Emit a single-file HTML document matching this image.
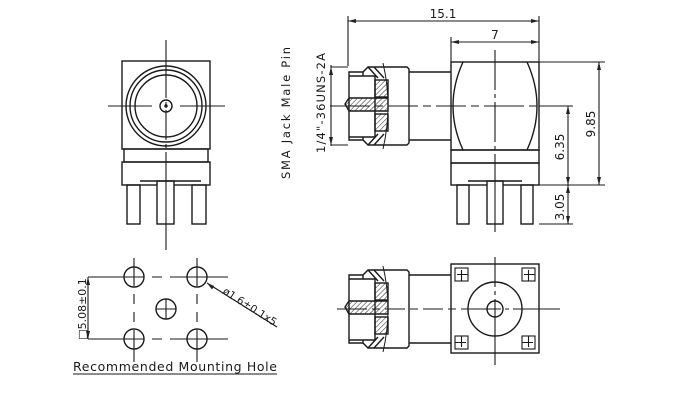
<!DOCTYPE html>
<html><head><meta charset="utf-8"><style>
html,body{margin:0;padding:0;background:#fff;}
svg{display:block;}
text{font-family:"DejaVu Sans","Liberation Sans",sans-serif;fill:#1a1a1a;}
</style></head><body>
<svg width="700" height="416" viewBox="0 0 700 416" xmlns="http://www.w3.org/2000/svg">
<defs>
<pattern id="h" width="3.5" height="3.5" patternUnits="userSpaceOnUse" patternTransform="rotate(45)">
<line x1="0" y1="0" x2="0" y2="3.5" stroke="#222" stroke-width="1"/>
</pattern>
<g id="conn" fill="none" stroke="#1a1a1a" stroke-width="1.4">
<path d="M349,72 L363,72 L368,67 L407,67 L409,69 L409,143 L407,145 L368,145 L363,140 L349,140 Z" fill="#fff"/>
<path d="M349,76 L375,76 L375,137 L349,137"/>
<line x1="363" y1="72" x2="363" y2="76"/><line x1="363" y1="137" x2="363" y2="140"/>
<line x1="368" y1="67" x2="378" y2="78"/><line x1="374" y1="67" x2="384" y2="78"/>
<line x1="368" y1="145" x2="378" y2="134"/><line x1="374" y1="145" x2="384" y2="134"/>
<rect x="375" y="80" width="13" height="17" fill="url(#h)"/>
<rect x="375" y="114" width="13" height="17" fill="url(#h)"/>
<path d="M345,104 L349,98 L388,98 L388,111 L349,111 Z" fill="url(#h)"/>
<path d="M383,63 Q393,106 383,149" stroke-width="1"/>
<line x1="409" y1="72" x2="451" y2="72"/><line x1="409" y1="140" x2="451" y2="140"/>
</g>
</defs>
<g fill="none" stroke="#1a1a1a" stroke-width="1.4">
<!-- front view -->
<rect x="122" y="61" width="88" height="88"/>
<circle cx="166" cy="106" r="40"/><circle cx="166" cy="106" r="36"/><circle cx="166" cy="106" r="31"/>
<circle cx="166" cy="106" r="6"/>
<rect x="124" y="149" width="84" height="13"/>
<rect x="122" y="162" width="88" height="23"/>
<rect x="127" y="185" width="13" height="39"/>
<rect x="157" y="181" width="17" height="43" fill="#fff"/>
<rect x="192" y="185" width="14" height="39"/>
<line x1="140" y1="181" x2="201" y2="181"/>
<g stroke-width="1.1">
<line x1="166" y1="40" x2="166" y2="250" stroke-dasharray="58,4,4,4,30,4,4,4,200"/>
<line x1="108" y1="106" x2="152" y2="106"/><line x1="180" y1="106" x2="225" y2="106"/>
</g>
<circle cx="166" cy="106" r="1" fill="#222"/>

<!-- side view top -->
<use href="#conn"/>
<rect x="451" y="62" width="88" height="88"/>
<path d="M463,62 Q443,106 463,150 M527,62 Q547,106 527,150"/>
<rect x="451" y="150" width="88" height="13"/>
<rect x="451" y="163" width="88" height="22"/>
<rect x="457" y="185" width="12" height="39"/>
<rect x="487" y="181" width="16" height="43" fill="#fff"/>
<rect x="521" y="185" width="12" height="39"/>
<line x1="468" y1="181" x2="522" y2="181"/>
<g stroke-width="1.1">
<line x1="495" y1="50" x2="495" y2="232" stroke-dasharray="40,4,4,4,40,4,4,4,200"/>
<line x1="330" y1="106" x2="573" y2="106" stroke-dasharray="40,5,8,5,30,5,8,5,30,5,8,5,40,5,8,5,300"/>
<!-- dims -->
<line x1="348" y1="16" x2="348" y2="66"/><line x1="539" y1="16" x2="539" y2="62"/>
<line x1="348" y1="21" x2="539" y2="21"/>
<line x1="451" y1="37" x2="451" y2="62"/>
<line x1="451" y1="42" x2="539" y2="42"/>
<line x1="539" y1="62" x2="605" y2="62"/><line x1="539" y1="185" x2="605" y2="185"/>
<line x1="599" y1="62" x2="599" y2="185"/>
<line x1="539" y1="106" x2="573" y2="106"/><line x1="539" y1="224" x2="573" y2="224"/>
<line x1="568" y1="106" x2="568" y2="224"/>
<line x1="331" y1="65" x2="331" y2="146"/>
<line x1="331" y1="67" x2="348" y2="67"/><line x1="331" y1="145" x2="348" y2="145"/>
</g>
<g fill="#222" stroke="none">
<path d="M348,21 l8,-2 v4z M539,21 l-8,-2 v4z M451,42 l8,-2 v4z M539,42 l-8,-2 v4z"/>
<path d="M599,62 l-2,8 h4z M599,185 l-2,-8 h4z M568,106 l-2,8 h4z M568,185 l-2,-8 h4z M568,185 l-2,8 h4z M568,224 l-2,-8 h4z"/>
<path d="M331,67 l-2,8 h4z M331,145 l-2,-8 h4z"/>
</g>

<!-- bottom view -->
<use href="#conn" transform="translate(0,203)"/>
<rect x="451" y="264" width="88" height="89"/>
<circle cx="495" cy="309" r="27"/><circle cx="495" cy="309" r="8"/>
<g stroke-width="1.1">
<rect x="455" y="268" width="13" height="13"/><path d="M461.5,270 V281 M457,274.5 H468"/>
<rect x="522" y="268" width="13" height="13"/><path d="M528.5,270 V281 M524,274.5 H535"/>
<rect x="455" y="336" width="13" height="13"/><path d="M461.5,336 V347 M455,342.5 H466"/>
<rect x="522" y="336" width="13" height="13"/><path d="M528.5,336 V347 M522,342.5 H533"/>
<line x1="495" y1="257" x2="495" y2="365" stroke-dasharray="30,4,4,4,200"/>
<line x1="337" y1="309" x2="560" y2="309" stroke-dasharray="30,5,8,5,20,5,8,5,20,5,8,5,40,4,4,4,60"/>
</g>

<!-- mounting holes -->
<circle cx="134" cy="277" r="10"/><circle cx="197" cy="277" r="10"/>
<circle cx="166" cy="309" r="10"/>
<circle cx="134" cy="339" r="10"/><circle cx="197" cy="339" r="10"/>
<g stroke-width="1.1">
<line x1="118" y1="277" x2="228" y2="277" stroke-dasharray="26,8,10,8,60"/>
<line x1="118" y1="339" x2="228" y2="339" stroke-dasharray="26,8,10,8,60"/>
<line x1="134" y1="258" x2="134" y2="362" stroke-dasharray="28,8,10,8,10,8,40"/>
<line x1="197" y1="258" x2="197" y2="362" stroke-dasharray="28,8,10,8,10,8,40"/>
<line x1="156" y1="309" x2="176" y2="309"/><line x1="166" y1="299" x2="166" y2="319"/>
<line x1="88" y1="277" x2="124" y2="277"/><line x1="88" y1="339" x2="124" y2="339"/>
<line x1="88" y1="277" x2="88" y2="339"/>
<line x1="207" y1="283" x2="277" y2="327"/>
<line x1="73" y1="374" x2="277" y2="374"/>
</g>
<g fill="#222" stroke="none">
<path d="M88,277 l-2,8 h4z M88,339 l-2,-8 h4z"/>
<path d="M207,283 l5,6.5 l2.2,-3.5z"/>
</g>
</g>

<!-- text -->
<text x="443" y="18" font-size="12" text-anchor="middle">15.1</text>
<text x="495" y="39" font-size="12" text-anchor="middle">7</text>
<text transform="translate(595,124) rotate(-90)" font-size="12" text-anchor="middle">9.85</text>
<text transform="translate(564,147) rotate(-90)" font-size="12" text-anchor="middle">6.35</text>
<text transform="translate(564,207) rotate(-90)" font-size="12" text-anchor="middle">3.05</text>
<text transform="translate(290,113) rotate(-90)" font-size="11.5" text-anchor="middle" textLength="132">SMA Jack Male Pin</text>
<text transform="translate(325,103) rotate(-90)" font-size="11.5" text-anchor="middle" textLength="100">1/4"-36UNS-2A</text>
<text transform="translate(86,309) rotate(-90)" font-size="11" text-anchor="middle">□5.08±0.1</text>
<text transform="translate(222,293) rotate(32.5)" font-size="10.5">ø1.6±0.1x5</text>
<text x="73" y="371" font-size="12.5" textLength="204">Recommended Mounting Hole</text>
</svg>
</body></html>
